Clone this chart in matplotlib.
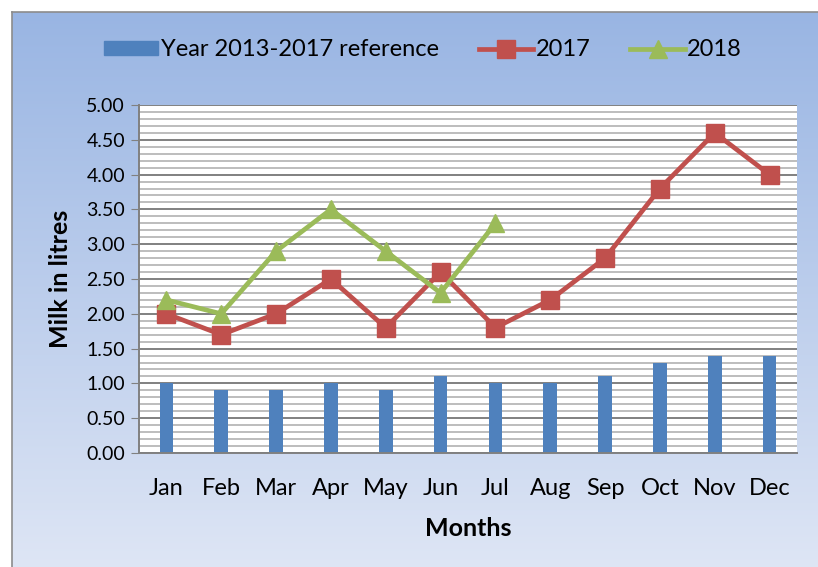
import numpy as np
import matplotlib.pyplot as plt
from matplotlib.lines import Line2D
from matplotlib.patches import Patch

# Data
months = ['Jan', 'Feb', 'Mar', 'Apr', 'May', 'Jun', 'Jul', 'Aug', 'Sep', 'Oct', 'Nov', 'Dec']
reference = [1.0, 0.9, 0.9, 1.0, 0.9, 1.1, 1.0, 1.0, 1.1, 1.3, 1.4, 1.4]
y2017 = [2.0, 1.7, 2.0, 2.5, 1.8, 2.6, 1.8, 2.2, 2.8, 3.8, 4.6, 4.0]
y2018 = [2.2, 2.0, 2.9, 3.5, 2.9, 2.3, 3.3]

plt.rcParams['font.family'] = ['Lato', 'DejaVu Sans']

fig = plt.figure(figsize=(8.18, 5.67), dpi=100)
fig.patch.set_facecolor('white')

# gradient background of the chart area
bg = fig.add_axes([12/818, 0, 1 - 12/818, 1 - 12/567])
grad = np.linspace(0, 1, 256).reshape(-1, 1)
top = np.array([0.60, 0.71, 0.89])
bot = np.array([0.87, 0.90, 0.96])
img = top + (bot - top) * grad[:, :, None]
bg.imshow(img, aspect='auto', extent=[0, 1, 0, 1])
bg.set_xticks([])
bg.set_yticks([])
for s in ['right', 'bottom']:
    bg.spines[s].set_visible(False)
for s in ['left', 'top']:
    bg.spines[s].set_color('#8c8c8c')
    bg.spines[s].set_linewidth(1.2)
bg.set_zorder(-1)

ax = fig.add_axes([139/818, 114/567, 658/818, 348/567])
ax.set_facecolor('white')
x = np.arange(len(months))

ax.bar(x, reference, width=0.25, color='#4F81BD', zorder=2)
ax.plot(x, y2017, color='#C0504D', lw=3.4, marker='s', markersize=12.5, zorder=3)
ax.plot(x[:len(y2018)], y2018, color='#9BBB59', lw=3.4, marker='^', markersize=13.5, zorder=4)

ax.set_xlim(-0.5, len(months) - 0.5)
ax.set_ylim(0, 5)
ax.set_yticks(np.arange(0, 5.01, 0.5))
ax.set_yticks(np.arange(0, 5.01, 0.1), minor=True)
ax.set_yticklabels(['%.2f' % v for v in np.arange(0, 5.01, 0.5)], fontsize=14)
ax.set_xticks(x)
ax.set_xticklabels(months, fontsize=17)
ax.grid(axis='y', which='major', color='#808080', lw=1.4, zorder=0)
ax.grid(axis='y', which='minor', color='#bdbdbd', lw=1.4, zorder=0)
ax.set_axisbelow(True)
ax.tick_params(axis='y', which='minor', length=0)
ax.tick_params(axis='y', which='major', length=6, color='#808080', pad=4)
ax.tick_params(axis='x', length=0, pad=18)
for s in ['top', 'right']:
    ax.spines[s].set_visible(False)
for s in ['left', 'bottom']:
    ax.spines[s].set_color('#808080')
    ax.spines[s].set_linewidth(1.4)

ax.set_ylabel('Milk in litres', fontsize=18, fontweight='bold', labelpad=10)
ax.set_xlabel('Months', fontsize=18, fontweight='bold', labelpad=13)

handles = [Patch(color='#4F81BD'),
           Line2D([], [], color='#C0504D', lw=3.4, marker='s', markersize=12.5),
           Line2D([], [], color='#9BBB59', lw=3.4, marker='^', markersize=13.5)]
fig.legend(handles, ['Year 2013-2017 reference', '2017', '2018'],
           loc='center', bbox_to_anchor=(423/818, 1 - 50/567), ncol=3,
           frameon=False, fontsize=17, handlelength=2.3, handleheight=0.55,
           handletextpad=0.1, columnspacing=1.7)

fig.savefig('out.png', dpi=100)
